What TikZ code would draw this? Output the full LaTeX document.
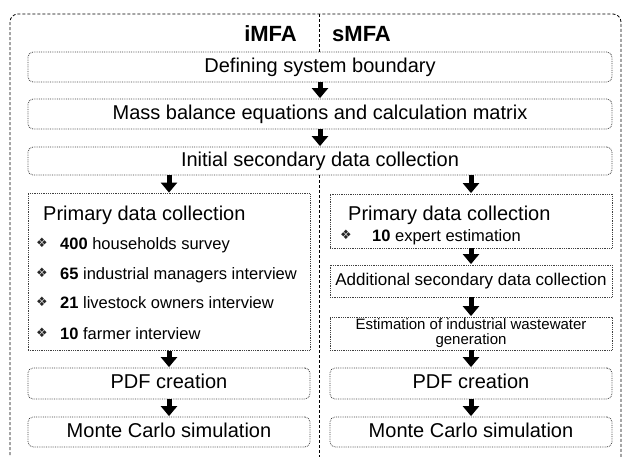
\documentclass[tikz,border=0pt]{standalone}
\usepackage{fontspec}
\setmainfont{Liberation Sans}
\newfontfamily\symfont{DejaVu Sans}
\usetikzlibrary{arrows.meta}

\begin{document}
\begin{tikzpicture}[x=1pt,y=-1pt,
  outline/.style={draw=black!75, densely dotted, line width=0.8pt, inner sep=0pt},
  stage/.style={outline, rounded corners=5pt, minimum height=30pt,
    text height=14.5pt, text depth=4.2pt, font=\fontsize{20}{24}\selectfont},
  panel/.style={outline},
  wide/.style={minimum width=584pt},
  half/.style={minimum width=282pt},
  flow/.style={line width=5pt, -{Triangle[length=10pt,width=16pt]}, shorten >=0.5pt},
  head/.style={font=\fontsize{22}{26}\selectfont\bfseries, inner sep=0pt},
  title/.style={font=\fontsize{20}{24}\selectfont, inner sep=0pt, anchor=base west},
  item/.style={font=\fontsize{16.5}{20}\selectfont, inner sep=0pt, anchor=base west},
  bulletmark/.style={font=\fontsize{13}{15}\symfont, inner sep=0pt, text=black!85},
]
\useasboundingbox (0,0) rectangle (624,456);
\clip (0,0) rectangle (624,456);

% frame and column divider
\draw[dash pattern=on 3pt off 2pt, line width=0.8pt, rounded corners=8pt]
  (10,14) rectangle (621,480);
\coordinate (dtop) at (319,14);
\coordinate (dbot) at (319,470);

% column headers
\node[head, anchor=base east] (imfa) at (297,41) {iMFA};
\node[head, anchor=base west] (smfa) at (332,41) {sMFA};

% shared stages
\node[stage, wide] (bound) at (320,67) {Defining system boundary};
\node[stage, wide] (mass) at (320,114) {Mass balance equations and calculation matrix};
\node[stage, wide, minimum height=28pt] (init) at (320,161) {Initial secondary data collection};

\draw[dash pattern=on 3pt off 2pt, line width=0.8pt] (dtop) -- (dtop |- bound.north);
\draw[dash pattern=on 3pt off 2pt, line width=0.8pt] (dbot |- init.south) -- (dbot);

% iMFA column
\node[panel, half, minimum height=157pt] (lprim) at (169,272) {};
\node[title] (ltitle) at (43,220) {Primary data collection};
\node[bulletmark] (lm1) at (42,243) {❖};
\node[item] (li1) at (60,249) {\textbf{400} households survey};
\node[bulletmark] (lm2) at (42,273) {❖};
\node[item] (li2) at (60,279) {\textbf{65} industrial managers interview};
\node[bulletmark] (lm3) at (42,302) {❖};
\node[item] (li3) at (60,308) {\textbf{21} livestock owners interview};
\node[bulletmark] (lm4) at (42,333) {❖};
\node[item] (li4) at (60,339) {\textbf{10} farmer interview};
\node[stage, half, minimum height=31pt] (lpdf) at (169,383.5) {PDF creation};
\node[stage, half] (lmc) at (169,432) {Monte Carlo simulation};

% sMFA column
\node[panel, half, minimum height=54pt] (rprim) at (471,221) {};
\node[title] (rtitle) at (348,220) {Primary data collection};
\node[bulletmark] (rm1) at (346,235) {❖};
\node[item] (ri1) at (372,241) {\textbf{10} expert estimation};
\node[panel, half, minimum height=32pt, font=\fontsize{17}{20}\selectfont] (radd) at (471,281)
  {Additional secondary data collection};
\node[panel, half, minimum height=33pt, align=center, font=\fontsize{15}{15}\selectfont] (rest) at (471,333.5)
  {Estimation of industrial wastewater\\generation};
\node[stage, half, minimum height=31pt] (rpdf) at (471,383.5) {PDF creation};
\node[stage, half] (rmc) at (471,432) {Monte Carlo simulation};

% connectors
\draw[flow] (bound) -- (mass);
\draw[flow] (mass) -- (init);
\draw[flow] (init.south -| lprim) -- (lprim.north);
\draw[flow] (init.south -| rprim) -- (rprim.north);
\draw[flow] (lprim) -- (lpdf);
\draw[flow] (lpdf) -- (lmc);
\draw[flow] (rprim) -- (radd);
\draw[flow] (radd) -- (rest);
\draw[flow] (rest) -- (rpdf);
\draw[flow] (rpdf) -- (rmc);
\end{tikzpicture}
\end{document}
